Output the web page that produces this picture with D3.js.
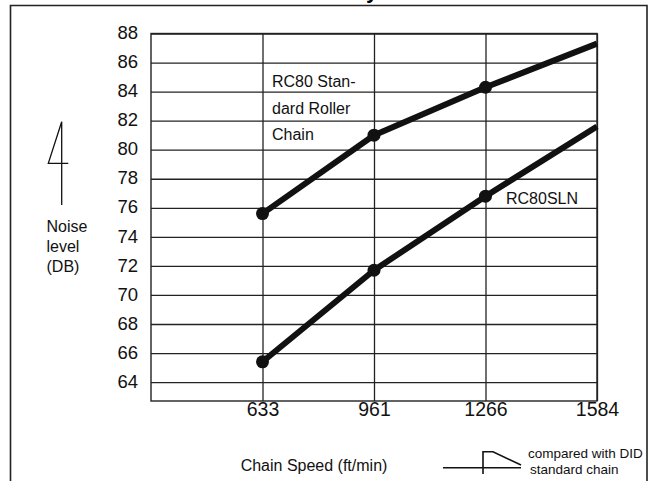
<!DOCTYPE html>
<html>
<head>
<meta charset="utf-8">
<script src="https://cdn.jsdelivr.net/npm/d3@7"></script>
<style>
  body { margin: 0; background: #fff; }
  svg { display: block; font-family: "Liberation Sans", Arial, Helvetica, sans-serif; }
  .grid line { stroke: #222; stroke-width: 1.3; }
  .tick text { fill: #111; }
</style>
</head>
<body>
<svg width="653" height="481"></svg>
<script>
// chain speeds (ft/min) and noise levels (dB)
var speeds = ["633", "961", "1266", "1584"];
var standardChain = [75.6, 81.0, 84.3, 87.3];
var slnChain = [65.4, 71.7, 76.8, 81.6];
var yTicks = [64, 66, 68, 70, 72, 74, 76, 78, 80, 82, 84, 86, 88];
var standardLabel = ["RC80 Stan-", "dard Roller", "Chain"];
var slnLabel = "RC80SLN";

var svg = d3.select("svg"),
    width = +svg.attr("width"),
    height = +svg.attr("height");

var plotLeft = 151, plotRight = 597, plotTop = 33.5, plotBottom = 401;
var step = (plotRight - plotLeft) / speeds.length;

var x = d3.scalePoint()
    .domain(speeds)
    .range([plotLeft + step, plotRight]);

var y = d3.scaleLinear()
    .domain([62.7, 88])
    .range([plotBottom, plotTop]);

// outer frame (open at the bottom, runs off the picture)
svg.append("path")
    .attr("d", "M10.5,490 V5.5 H647 V490")
    .attr("fill", "none")
    .attr("stroke", "#222")
    .attr("stroke-width", 1.6);

// clipped title above the frame
svg.append("text")
    .attr("x", 372).attr("y", -2)
    .attr("text-anchor", "middle")
    .attr("font-size", 22)
    .attr("font-weight", "bold")
    .text("y");

// horizontal grid + y labels
var yAxis = svg.append("g")
    .attr("class", "grid")
    .attr("transform", "translate(" + plotLeft + ",0)")
    .call(d3.axisLeft(y).tickValues(yTicks).tickSize(-(plotRight - plotLeft)).tickPadding(13));
yAxis.select(".domain").remove();
yAxis.selectAll(".tick text")
    .attr("font-size", 18.5)
    .attr("dy", "0.28em");

// vertical grid + x labels
var xAxis = svg.append("g")
    .attr("class", "grid")
    .attr("transform", "translate(0," + plotBottom + ")")
    .call(d3.axisBottom(x).tickSize(-(plotBottom - plotTop)).tickPadding(1));
xAxis.select(".domain").remove();
xAxis.selectAll(".tick text")
    .attr("font-size", 19.5);

// plot border
svg.append("rect")
    .attr("x", plotLeft).attr("y", plotTop)
    .attr("width", plotRight - plotLeft).attr("height", plotBottom - plotTop)
    .attr("fill", "none")
    .attr("stroke", "#222")
    .attr("stroke-width", 1.4);

var line = d3.line()
    .x(function(d, i) { return x(speeds[i]); })
    .y(function(d) { return y(d); });

[standardChain, slnChain].forEach(function(series) {
  svg.append("path")
      .datum(series)
      .attr("fill", "none")
      .attr("stroke", "#111")
      .attr("stroke-width", 6)
      .attr("stroke-linejoin", "round")
      .attr("d", line);

  svg.selectAll(null)
      .data(series.slice(0, 3))
      .enter().append("circle")
      .attr("cx", function(d, i) { return x(speeds[i]); })
      .attr("cy", function(d) { return y(d); })
      .attr("r", 6.5)
      .attr("fill", "#111");
});

// series labels
svg.append("text")
    .attr("font-size", 16)
    .attr("fill", "#111")
    .selectAll("tspan")
    .data(standardLabel)
    .enter().append("tspan")
    .attr("x", 272)
    .attr("y", function(d, i) { return 87 + i * 26.5; })
    .text(function(d) { return d; });

svg.append("text")
    .attr("x", 506).attr("y", 203.5)
    .attr("font-size", 16)
    .attr("fill", "#111")
    .text(slnLabel);

// y axis title with the arrow mark
svg.append("path")
    .attr("d", "M61.7,205 V121.7 L48.3,163.3 H68.3")
    .attr("fill", "none")
    .attr("stroke", "#111")
    .attr("stroke-width", 1.3);

svg.append("text")
    .attr("font-size", 16)
    .attr("fill", "#111")
    .selectAll("tspan")
    .data(["Noise", "level", "(DB)"])
    .enter().append("tspan")
    .attr("x", 46.5)
    .attr("y", function(d, i) { return 231.5 + i * 20; })
    .text(function(d) { return d; });

// x axis title
svg.append("text")
    .attr("x", 314).attr("y", 471)
    .attr("text-anchor", "middle")
    .attr("font-size", 16)
    .attr("fill", "#111")
    .text("Chain Speed (ft/min)");

// comparison note with its symbol
svg.append("path")
    .attr("d", "M443,467.7 H521 M483,474 V451.7 H493 L521,465")
    .attr("fill", "none")
    .attr("stroke", "#111")
    .attr("stroke-width", 1.6);

svg.append("text")
    .attr("font-size", 13.5)
    .attr("fill", "#111")
    .selectAll("tspan")
    .data(["compared with DID", "standard chain"])
    .enter().append("tspan")
    .attr("x", function(d, i) { return i ? 530 : 528; })
    .attr("y", function(d, i) { return 458 + i * 16; })
    .text(function(d) { return d; });
</script>
</body>
</html>
